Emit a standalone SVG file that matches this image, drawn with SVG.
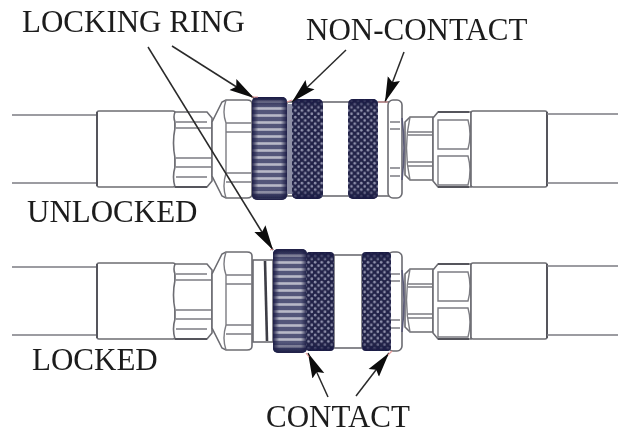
<svg xmlns="http://www.w3.org/2000/svg" xmlns:xlink="http://www.w3.org/1999/xlink" width="618" height="435" viewBox="0 0 618 435">
<style>
.l{font-family:"Liberation Serif","Times New Roman",serif;font-size:31px;fill:#1c1c1c}
.o{fill:#fff;stroke:#6c6c72;stroke-width:1.6}
.d{fill:none;stroke:#55555c;stroke-width:2}
.t{fill:none;stroke:#7c7c82;stroke-width:1.4}
.a{fill:none;stroke:#2a2a2a;stroke-width:1.5;marker-end:url(#ah)}
.p{fill:none;stroke:#e79a9a;stroke-width:1.2}
.s{filter:url(#soft)}
</style>
<defs>
<filter id="soft" filterUnits="userSpaceOnUse" x="0" y="0" width="618" height="435"><feGaussianBlur stdDeviation="0.4"/></filter>
<marker id="ah" markerUnits="userSpaceOnUse" markerWidth="28" markerHeight="16" refX="25" refY="8" orient="auto"><path d="M0 1.5L25 8L0 14.5L4 8Z" fill="#0c0c0c"/></marker>
<pattern id="kn" width="6.6" height="6.6" patternUnits="userSpaceOnUse"><rect width="6.6" height="6.6" fill="#232449"/><circle cx="1.65" cy="1.65" r="1.3" fill="#9092ad"/><circle cx="4.95" cy="4.95" r="1.3" fill="#9092ad"/></pattern>
<pattern id="rb" width="10" height="7" patternUnits="userSpaceOnUse"><rect width="10" height="7" fill="#5d6083"/><rect y="2.2" width="10" height="2.6" fill="#d3d4de"/></pattern>
<linearGradient id="eh"><stop offset="0" stop-color="#1b1c44" stop-opacity=".95"/><stop offset=".18" stop-color="#1b1c44" stop-opacity=".15"/><stop offset=".82" stop-color="#1b1c44" stop-opacity=".15"/><stop offset="1" stop-color="#1b1c44" stop-opacity=".95"/></linearGradient>
<linearGradient id="ev" x2="0" y2="1"><stop offset="0" stop-color="#1b1c44" stop-opacity="1"/><stop offset=".1" stop-color="#1b1c44" stop-opacity="0"/><stop offset=".9" stop-color="#1b1c44" stop-opacity="0"/><stop offset="1" stop-color="#1b1c44" stop-opacity="1"/></linearGradient>
<g id="endL">
<path class="t" d="M12 115H97M12 183H97"/>
<rect class="o" x="97" y="111" width="78" height="76" rx="2"/>
<path class="d" d="M97 112V186"/>
<path class="o" d="M175 112H207L212 118V181L207 187H175Q172 177 175 167V158Q172 143 175 128V122Q173 117 175 112Z"/>
<path class="t" d="M176 122H207M176 128H212M176 158H212M176 167H212M176 177H207"/>
<path class="d" d="M175 187H207"/>
<path class="o" d="M212 122L222 102L226 100H247Q252 100 252 104V194Q252 198 247 198H226L222 196L212 176Z"/>
<path class="t" d="M226 100Q222 112 226 123V173Q222 186 226 198M226 123H252M226 132H252M226 173H252M226 182H252"/>
</g>
<g id="endR">
<path class="o" d="M405 122L410 117H433V180H410L405 175Z"/>
<path class="t" d="M408 132H433M408 135H433M408 162H433M408 166H433M410 117Q403 148 410 180"/>
<path class="o" d="M433 118L438 112H471V187H438L433 181Z"/>
<path class="t" d="M438 120H468Q472 134 468 149H438ZM438 156H468Q472 170 468 185H438Z"/>
<path class="d" d="M438 112H469M438 187H469"/>
<rect class="o" x="471" y="111" width="76" height="76" rx="2"/>
<path class="d" d="M547 112V186"/>
<path class="t" d="M547 114H618M547 183H618"/>
</g>
</defs>
<rect width="618" height="435" fill="#fff"/>

<g id="unlocked-coupling" class="s">
<use href="#endL"/>
<use href="#endR"/>
<rect class="o" x="287" y="102" width="102" height="94"/>
<rect x="287" y="104" width="5" height="90" fill="#8d8fa6"/>
<rect x="323" y="103" width="25" height="92" fill="#fff"/>
<rect class="o" x="388" y="100" width="14" height="98" rx="5"/>
<path class="t" d="M390 122H400M390 129H400M390 168H400M390 176H400"/>
<path d="M402 118Q406 148 402 180" fill="none" stroke="#5a5a78" stroke-width="1.6"/>
<rect x="252" y="97" width="35" height="103" rx="5" fill="url(#rb)"/>
<rect x="252" y="97" width="35" height="103" rx="5" fill="url(#eh)"/>
<rect x="252" y="97" width="35" height="103" rx="5" fill="url(#ev)"/>
<rect x="292" y="99" width="31" height="100" rx="5" fill="url(#kn)"/>
<rect x="348" y="99" width="30" height="100" rx="5" fill="url(#kn)"/>
<rect x="292" y="99" width="31" height="100" rx="5" fill="url(#ev)"/>
<rect x="348" y="99" width="30" height="100" rx="5" fill="url(#ev)"/>
</g>

<g id="locked-coupling" class="s">
<use href="#endL" y="152"/>
<use href="#endR" y="152"/>
<rect class="o" x="253" y="260" width="20" height="82"/>
<path d="M265 261L267 341" fill="none" stroke="#3c3c44" stroke-width="2.6"/>
<rect class="o" x="334" y="255" width="28" height="93"/>
<rect class="o" x="388" y="252" width="14" height="99" rx="5"/>
<path class="t" d="M391 274H400M391 281H400M391 320H400M391 328H400"/>
<path d="M402 270Q406 300 402 332" fill="none" stroke="#5a5a78" stroke-width="1.6"/>
<rect x="273" y="249" width="34" height="104" rx="5" fill="url(#rb)"/>
<rect x="273" y="249" width="34" height="104" rx="5" fill="url(#eh)"/>
<rect x="273" y="249" width="34" height="104" rx="5" fill="url(#ev)"/>
<rect x="306" y="252" width="28" height="99" rx="4" fill="url(#kn)"/>
<rect x="362" y="252" width="29" height="99" rx="4" fill="url(#kn)"/>
<rect x="306" y="252" width="28" height="99" rx="4" fill="url(#ev)"/>
<rect x="362" y="252" width="29" height="99" rx="4" fill="url(#ev)"/>
</g>

<g id="connectors">
<path class="a" d="M172 46L254 98"/>
<path class="a" d="M148 47L273 250"/>
<path class="a" d="M346 50L292 102"/>
<path class="a" d="M404 52L385 102"/>
<path class="a" d="M328 397L308 353"/>
<path class="a" d="M356 396L389 353"/>
<path class="p" d="M252 97H258M287 102L292 100M378 102H388M270 250L273 249M306 353L309 357M388 355L392 351"/>
</g>

<g id="labels" class="s">
<text class="l" x="22" y="32">LOCKING RING</text>
<text class="l" x="306" y="40">NON-CONTACT</text>
<text class="l" x="27" y="222">UNLOCKED</text>
<text class="l" x="32" y="370">LOCKED</text>
<text class="l" x="266" y="427">CONTACT</text>
</g>
</svg>
